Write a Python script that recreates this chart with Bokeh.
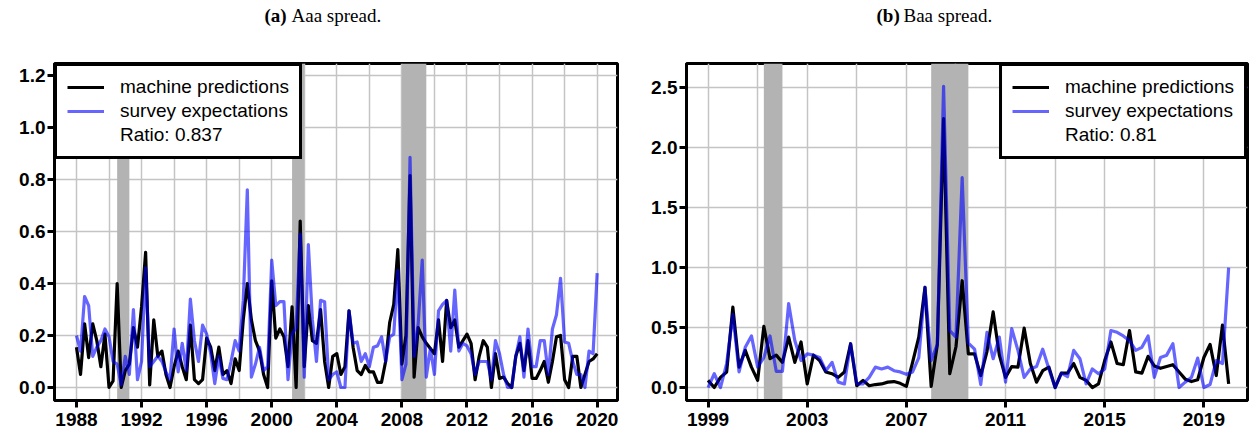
from bokeh.plotting import figure
from bokeh.models import (Range1d, FixedTicker, NumeralTickFormatter, Legend,
                          LegendItem, ColumnDataSource)
from bokeh.core.properties import value
from bokeh.layouts import row, column
from bokeh.embed import file_html
from bokeh.resources import INLINE

# ---------------- data ----------------
aaa_start_year = 1988.0
aaa_machine = [
    0.155, 0.05, 0.245, 0.115, 0.245, 0.18, 0.08, 0.205, 0.0, 0.025,
    0.40, 0.0, 0.065, 0.09, 0.23, 0.155, 0.31, 0.52, 0.01, 0.26,
    0.12, 0.14, 0.05, 0.0, 0.08, 0.14, 0.08, 0.03, 0.24, 0.03,
    0.015, 0.03, 0.19, 0.155, 0.065, 0.155, 0.05, 0.065, 0.015, 0.11,
    0.065, 0.26, 0.40, 0.26, 0.18, 0.14, 0.05, 0.0, 0.41, 0.19,
    0.225, 0.195, 0.08, 0.31, 0.0, 0.64, 0.08, 0.315, 0.18, 0.17,
    0.30, 0.10, 0.0, 0.12, 0.13, 0.05, 0.08, 0.295, 0.155, 0.065,
    0.05, 0.085, 0.06, 0.06, 0.02, 0.02, 0.10, 0.25, 0.32, 0.53,
    0.09, 0.20, 0.815, 0.04, 0.23, 0.195, 0.17, 0.15, 0.13, 0.26,
    0.10, 0.335, 0.23, 0.26, 0.155, 0.18, 0.205, 0.17, 0.03, 0.12,
    0.18, 0.155, 0.0, 0.13, 0.035, 0.04, 0.015, 0.0, 0.12, 0.17,
    0.065, 0.18, 0.035, 0.035, 0.065, 0.10, 0.02, 0.10, 0.195, 0.20,
    0.03, 0.0, 0.12, 0.12, 0.0, 0.05, 0.10, 0.11, 0.13,
]
aaa_survey = [
    0.20, 0.14, 0.35, 0.315, 0.12, 0.155, 0.18, 0.225, 0.195, 0.10,
    0.09, 0.01, 0.12, 0.05, 0.30, 0.03, 0.10, 0.46, 0.08, 0.10,
    0.12, 0.10, 0.06, 0.03, 0.225, 0.06, 0.17, 0.065, 0.34, 0.18,
    0.10, 0.24, 0.205, 0.13, 0.015, 0.12, 0.035, 0.03, 0.10, 0.18,
    0.14, 0.335, 0.76, 0.04, 0.09, 0.155, 0.065, 0.08, 0.49, 0.315,
    0.33, 0.33, 0.03, 0.205, 0.23, 0.59, 0.04, 0.55, 0.26, 0.10,
    0.335, 0.33, 0.03, 0.05, 0.06, 0.0, 0.0, 0.295, 0.17, 0.175,
    0.10, 0.13, 0.08, 0.155, 0.16, 0.195, 0.10, 0.195, 0.205, 0.45,
    0.03, 0.09, 0.885, 0.12, 0.245, 0.49, 0.04, 0.15, 0.05, 0.295,
    0.32, 0.335, 0.14, 0.375, 0.14, 0.17, 0.16, 0.13, 0.05, 0.10,
    0.10, 0.10, 0.03, 0.18, 0.13, 0.05, 0.0, 0.0, 0.12, 0.195,
    0.04, 0.225, 0.08, 0.08, 0.18, 0.18, 0.05, 0.225, 0.28, 0.42,
    0.175, 0.17, 0.10, 0.05, 0.05, 0.0, 0.14, 0.13, 0.44,
]
aaa_rec_start = [1990.5, 2001.25, 2008.0]
aaa_rec_end = [1991.25, 2002.0, 2009.5]
aaa_xticks = [1988, 1992, 1996, 2000, 2004, 2008, 2012, 2016, 2020]
aaa_yticks = [0.0, 0.2, 0.4, 0.6, 0.8, 1.0, 1.2]
aaa_ratio = "Ratio: 0.837"

baa_start_year = 1999.0
baa_machine = [
    0.06, 0.0, 0.085, 0.13, 0.67, 0.17, 0.31, 0.17, 0.06, 0.51,
    0.24, 0.27, 0.21, 0.42, 0.21, 0.38, 0.03, 0.27, 0.225, 0.13,
    0.115, 0.085, 0.13, 0.365, 0.015, 0.06, 0.015, 0.025, 0.03, 0.045,
    0.05, 0.035, 0.01, 0.21, 0.42, 0.835, 0.01, 0.36, 2.24, 0.115,
    0.34, 0.89, 0.28, 0.28, 0.10, 0.30, 0.63, 0.27, 0.085, 0.175,
    0.17, 0.495, 0.2, 0.045, 0.14, 0.17, 0.0, 0.12, 0.12, 0.2,
    0.085, 0.06, 0.0, 0.03, 0.225, 0.38, 0.2, 0.19, 0.475, 0.13,
    0.12, 0.26, 0.18, 0.16, 0.175, 0.19, 0.13, 0.07, 0.05, 0.065,
    0.25, 0.36, 0.10, 0.52, 0.03,
]
baa_survey = [
    0.0, 0.115, 0.0, 0.2, 0.61, 0.13, 0.335, 0.43, 0.17, 0.25,
    0.43, 0.135, 0.135, 0.70, 0.39, 0.225, 0.28, 0.27, 0.25, 0.14,
    0.21, 0.045, 0.03, 0.365, 0.03, 0.03, 0.085, 0.17, 0.155, 0.17,
    0.14, 0.13, 0.11, 0.13, 0.25, 0.835, 0.225, 0.36, 2.51, 0.475,
    0.42, 1.75, 0.37, 0.32, 0.025, 0.46, 0.24, 0.42, 0.045, 0.49,
    0.31, 0.085, 0.155, 0.175, 0.32, 0.155, 0.0, 0.12, 0.09, 0.31,
    0.24, 0.03, 0.155, 0.115, 0.155, 0.475, 0.46, 0.43, 0.39, 0.31,
    0.335, 0.43, 0.085, 0.25, 0.27, 0.365, 0.0, 0.045, 0.085, 0.245,
    0.0, 0.025, 0.225, 0.2, 1.0,
]
baa_rec_start = [2001.25, 2008.0]
baa_rec_end = [2002.0, 2009.5]
baa_xticks = [1999, 2003, 2007, 2011, 2015, 2019]
baa_yticks = [0.0, 0.5, 1.0, 1.5, 2.0, 2.5]
baa_ratio = "Ratio: 0.81"

caption_tags = ["(a)", "(b)"]
caption_texts = ["Aaa spread.", "Baa spread."]

SANS = "Liberation Sans"
SERIF = "Liberation Serif"
CAP_H = 30
MAIN_H = 433 - CAP_H


def panel(start_year, machine, survey, rec_s, rec_e, xticks, xgrid_step, yticks,
          yfmt, ratio_text, xr, yr, width, border_left, border_right, legend_loc):
    dates = [start_year + 0.25 * i for i in range(len(machine))]
    p = figure(width=width, height=MAIN_H, output_backend="svg", toolbar_location=None,
               x_range=Range1d(*xr), y_range=Range1d(*yr),
               min_border_left=border_left, min_border_right=border_right,
               min_border_top=63 - CAP_H, min_border_bottom=33)
    p.background_fill_color = "white"
    p.border_fill_color = "white"
    p.outline_line_color = "black"
    p.outline_line_width = 3
    p.outline_line_alpha = 1

    # recession bands
    p.quad(left=rec_s, right=rec_e, bottom=[yr[0]] * len(rec_s), top=[yr[1]] * len(rec_s),
           fill_color="#b3b3b3", line_color=None)

    src = ColumnDataSource(dict(x=dates, m=machine, s=survey))
    r1 = p.line("x", "m", source=src, line_color="black", line_width=3.2, line_join="round")
    r2 = p.line("x", "s", source=src, line_color="#0000ff", line_alpha=0.6,
                line_width=3.2, line_join="round")
    r3 = p.line([dates[0]], [machine[0]], line_alpha=0)

    for ax in (p.xaxis[0], p.yaxis[0]):
        ax.axis_line_color = "black"
        ax.axis_line_width = 3
        ax.major_tick_line_color = "black"
        ax.major_tick_line_width = 3
        ax.major_tick_out = 7
        ax.major_tick_in = 0
        ax.minor_tick_line_color = None
        ax.major_label_text_font = SANS
        ax.major_label_text_font_style = "bold"
        ax.major_label_text_font_size = "19px"
        ax.major_label_text_color = "black"
    p.xaxis[0].ticker = FixedTicker(ticks=xticks)
    p.xaxis[0].formatter = NumeralTickFormatter(format="0")
    p.xaxis[0].major_label_standoff = 5
    p.yaxis[0].ticker = FixedTicker(ticks=yticks)
    p.yaxis[0].formatter = NumeralTickFormatter(format=yfmt)
    p.yaxis[0].major_label_standoff = 2

    gx = []
    g = xticks[0]
    while g <= xr[1]:
        gx.append(g)
        g += xgrid_step
    p.xgrid[0].ticker = FixedTicker(ticks=gx)
    p.ygrid[0].ticker = FixedTicker(ticks=yticks)
    for gr in (p.xgrid[0], p.ygrid[0]):
        gr.grid_line_color = "#c4c4c4"
        gr.grid_line_width = 1.5

    legend = Legend(items=[LegendItem(label="machine predictions", renderers=[r1]),
                           LegendItem(label="survey expectations", renderers=[r2]),
                           LegendItem(label=ratio_text, renderers=[r3])],
                    location=legend_loc, margin=0, padding=10, spacing=2,
                    glyph_width=37, glyph_height=20, label_height=20, label_standoff=16,
                    label_text_font=SANS, label_text_font_size="19px",
                    label_text_color="black",
                    border_line_color="black", border_line_width=3, border_line_alpha=1,
                    background_fill_color="white", background_fill_alpha=1)
    p.add_layout(legend, "center")
    return p


p1 = panel(aaa_start_year, aaa_machine, aaa_survey, aaa_rec_start, aaa_rec_end,
           aaa_xticks, 2, aaa_yticks, "0.0", aaa_ratio,
           (1986.65, 2021.25), (-0.05, 1.246), 620, 54, 3, "top_left")
p2 = panel(baa_start_year, baa_machine, baa_survey, baa_rec_start, baa_rec_end,
           baa_xticks, 2, baa_yticks, "0.0", baa_ratio,
           (1998.13, 2020.76), (-0.108, 2.7), 629, 66, 2, "top_right")

# caption strip (pixel space)
cap = figure(width=1249, height=CAP_H, output_backend="svg", toolbar_location=None,
             x_range=Range1d(0, 1249), y_range=Range1d(0, CAP_H),
             min_border=0, min_border_left=0, min_border_right=0,
             min_border_top=0, min_border_bottom=0)
cap.axis.visible = False
cap.grid.visible = False
cap.outline_line_color = None
cap.background_fill_color = "white"
cap.border_fill_color = "white"
tag_x = [264, 876]
cap.text(x=tag_x, y=[CAP_H - 15] * 2, text=caption_tags, text_font=value(SERIF),
         text_font_style="bold", text_font_size=value("19px"), text_baseline="middle",
         text_align="left", text_color="black")
cap.text(x=[t + 27 for t in tag_x], y=[CAP_H - 15] * 2, text=caption_texts,
         text_font=value(SERIF), text_font_size=value("19px"), text_baseline="middle",
         text_align="left", text_color="black")

layout = column(cap, row(p1, p2, spacing=0), spacing=0)
open("out.html", "w").write(file_html(layout, INLINE))
